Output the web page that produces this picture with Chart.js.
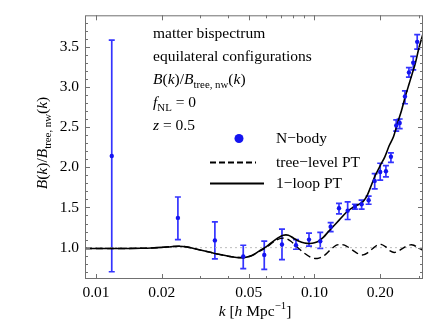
<!DOCTYPE html>
<html>
<head>
<meta charset="utf-8">
<script src="https://cdn.jsdelivr.net/npm/chart.js@4.4.1/dist/chart.umd.min.js"></script>
<style>
  html, body { margin: 0; padding: 0; background: #fff; }
</style>
</head>
<body>
<canvas id="bispecChart" width="432" height="336"></canvas>
<script>
// N-body measurements with error bars
const kNbody = [0.0118, 0.0237, 0.0350, 0.0472, 0.0589, 0.0710, 0.0823, 0.0944, 0.1063, 0.1186,
                0.1295, 0.1419, 0.1532, 0.1644, 0.1770, 0.1887, 0.2000, 0.2124, 0.2239, 0.2368,
                0.2455, 0.2596, 0.2707, 0.2833, 0.2954];
const bNbody = [2.14, 1.37, 1.09, 0.89, 0.91, 1.04, 1.03, 1.10, 1.08, 1.26,
                1.49, 1.46, 1.51, 1.54, 1.59, 1.83, 1.94, 1.95, 2.13, 2.52,
                2.55, 2.88, 3.18, 3.30, 3.56];
const bNbodyLo = [0.70, 1.10, 0.86, 0.74, 0.73, 0.85, 0.98, 1.02, 0.99, 1.20,
                  1.42, 1.35, 1.48, 1.48, 1.54, 1.73, 1.84, 1.88, 2.06, 2.45,
                  2.48, 2.79, 3.12, 3.21, 3.47];
const bNbodyHi = [3.58, 1.63, 1.32, 1.03, 1.08, 1.23, 1.10, 1.18, 1.19, 1.31,
                  1.55, 1.57, 1.54, 1.59, 1.64, 1.92, 2.05, 2.02, 2.18, 2.59,
                  2.60, 2.95, 3.24, 3.38, 3.65];

// 1-loop PT
const kLoop = [0.0089, 0.010, 0.012, 0.014, 0.016, 0.018, 0.020, 0.022, 0.024, 0.026,
               0.028, 0.030, 0.033, 0.036, 0.040, 0.044, 0.048, 0.052, 0.056, 0.060,
               0.064, 0.068, 0.072, 0.076, 0.080, 0.085, 0.090, 0.095, 0.100, 0.105,
               0.110, 0.115, 0.120, 0.130, 0.140, 0.150, 0.160, 0.165, 0.170, 0.175,
               0.180, 0.190, 0.200, 0.210, 0.220, 0.230, 0.240, 0.250, 0.260, 0.270,
               0.280, 0.290, 0.300, 0.314];
const bLoop = [0.990, 0.990, 0.990, 0.990, 0.992, 0.996, 1.003, 1.012, 1.018, 1.010,
               0.990, 0.970, 0.945, 0.920, 0.895, 0.878, 0.878, 0.905, 0.960, 1.010,
               1.070, 1.120, 1.155, 1.155, 1.120, 1.080, 1.058, 1.052, 1.060, 1.085,
               1.130, 1.190, 1.245, 1.345, 1.440, 1.500, 1.540, 1.560, 1.600, 1.660,
               1.740, 1.900, 2.020, 2.130, 2.270, 2.380, 2.550, 2.700, 2.870, 3.020,
               3.160, 3.300, 3.470, 3.660];

// tree-level PT
const kTree = [0.0089, 0.010, 0.012, 0.014, 0.016, 0.018, 0.020, 0.022, 0.024, 0.026,
               0.028, 0.030, 0.033, 0.036, 0.040, 0.044, 0.048, 0.052, 0.056, 0.060,
               0.065, 0.070, 0.074, 0.078, 0.083, 0.090, 0.097, 0.103, 0.110, 0.118,
               0.126, 0.132, 0.140, 0.150, 0.160, 0.167, 0.175, 0.185, 0.195, 0.202,
               0.212, 0.222, 0.232, 0.245, 0.260, 0.275, 0.285, 0.300, 0.314];
const bTree = [0.990, 0.990, 0.990, 0.990, 0.992, 0.996, 1.003, 1.012, 1.018, 1.010,
               0.990, 0.970, 0.945, 0.920, 0.895, 0.878, 0.878, 0.905, 0.955, 1.000,
               1.070, 1.115, 1.115, 1.080, 1.010, 0.930, 0.875, 0.865, 0.895, 0.970,
               1.030, 1.040, 1.020, 0.965, 0.918, 0.910, 0.935, 0.990, 1.035, 1.040,
               1.010, 0.960, 0.940, 0.965, 1.010, 1.035, 1.030, 0.995, 0.965];

const xTicks = [0.01, 0.02, 0.05, 0.10, 0.20];
const xMinor = [0.03, 0.04, 0.06, 0.07, 0.08, 0.09, 0.3];
const yTicks = [1.0, 1.5, 2.0, 2.5, 3.0, 3.5];
const yMinor = [0.7, 0.8, 0.9, 1.1, 1.2, 1.3, 1.4, 1.6, 1.7, 1.8, 1.9, 2.1, 2.2, 2.3, 2.4,
                2.6, 2.7, 2.8, 2.9, 3.1, 3.2, 3.3, 3.4, 3.6, 3.7, 3.8];

const X_MIN = 0.0089, X_MAX = 0.314;
const FONT = '"Liberation Serif", "Times New Roman", serif';
const FS = 15.5;
const BLUE = '#1414f0';

function pts(xs, ys) {
    return xs.map((x, i) => ({ x: x, y: ys[i] }));
}

// draws a run of text with italic / sub / superscript parts
function richText(ctx, x, y, parts, size) {
    let cx = x;
    parts.forEach(p => {
        const s = (p.sub || p.sup) ? size * 0.7 : size;
        ctx.font = (p.it ? 'italic ' : '') + s + 'px ' + FONT;
        const dy = p.sub ? size * 0.3 : (p.sup ? -size * 0.35 : 0);
        ctx.fillText(p.t, cx, y + dy);
        cx += ctx.measureText(p.t).width;
    });
    return cx - x;
}
function richWidth(ctx, parts, size) {
    let w = 0;
    parts.forEach(p => {
        const s = (p.sub || p.sup) ? size * 0.7 : size;
        ctx.font = (p.it ? 'italic ' : '') + s + 'px ' + FONT;
        w += ctx.measureText(p.t).width;
    });
    return w;
}

const ratioText = [
    { t: 'B', it: true }, { t: '(' }, { t: 'k', it: true }, { t: ')/' },
    { t: 'B', it: true }, { t: 'tree, nw', sub: true }, { t: '(' }, { t: 'k', it: true }, { t: ')' }
];

const decorPlugin = {
    id: 'decor',
    beforeDatasetsDraw(chart) {
        const ctx = chart.ctx;
        const xs = chart.scales.x, ys = chart.scales.y;
        const ds = chart.data.datasets[0];
        ctx.save();
        ctx.strokeStyle = 'rgba(30,30,255,0.9)';
        ctx.lineWidth = 1.7;
        ds.data.forEach((p, i) => {
            const px = xs.getPixelForValue(p.x);
            const top = ys.getPixelForValue(ds.errHi[i]);
            const bot = ys.getPixelForValue(ds.errLo[i]);
            ctx.beginPath();
            ctx.moveTo(px, bot); ctx.lineTo(px, top);
            ctx.moveTo(px - 3, top); ctx.lineTo(px + 3, top);
            ctx.moveTo(px - 3, bot); ctx.lineTo(px + 3, bot);
            ctx.stroke();
        });
        ctx.restore();
    },
    afterDraw(chart) {
        const ctx = chart.ctx;
        const a = chart.chartArea;
        const xs = chart.scales.x, ys = chart.scales.y;
        ctx.save();
        // frame
        ctx.strokeStyle = '#707070';
        ctx.lineWidth = 1;
        ctx.strokeRect(a.left + 0.5, a.top + 0.5, a.right - a.left - 1, a.bottom - a.top - 1);
        // inward ticks on all four sides
        ctx.beginPath();
        const tickX = (v, len) => {
            const px = Math.round(xs.getPixelForValue(v)) + 0.5;
            ctx.moveTo(px, a.bottom); ctx.lineTo(px, a.bottom - len);
            ctx.moveTo(px, a.top); ctx.lineTo(px, a.top + len);
        };
        const tickY = (v, len) => {
            const py = Math.round(ys.getPixelForValue(v)) + 0.5;
            ctx.moveTo(a.left, py); ctx.lineTo(a.left + len, py);
            ctx.moveTo(a.right, py); ctx.lineTo(a.right - len, py);
        };
        xTicks.forEach(v => tickX(v, 5));
        xMinor.forEach(v => tickX(v, 3));
        yTicks.forEach(v => tickY(v, 5));
        yMinor.forEach(v => tickY(v, 3));
        ctx.stroke();

        ctx.fillStyle = '#000';
        ctx.textBaseline = 'middle';
        ctx.textAlign = 'left';
        // annotation block
        const tx = 153;
        ctx.font = FS + 'px ' + FONT;
        ctx.fillText('matter bispectrum', tx, 34);
        ctx.fillText('equilateral configurations', tx, 57);
        richText(ctx, tx, 80, ratioText, FS);
        richText(ctx, tx, 103, [{ t: 'f', it: true }, { t: 'NL', sub: true }, { t: ' = 0' }], FS);
        richText(ctx, tx, 126, [{ t: 'z', it: true }, { t: ' = 0.5' }], FS);

        // legend
        const lx = 276;
        const dsets = chart.data.datasets;
        ctx.fillStyle = BLUE;
        ctx.beginPath();
        ctx.arc(239, 138.5, 4.5, 0, Math.PI * 2);
        ctx.fill();
        ctx.strokeStyle = '#000';
        ctx.lineWidth = 1.8;
        ctx.setLineDash([6, 3]);
        ctx.beginPath();
        ctx.moveTo(210, 162.5); ctx.lineTo(256, 162.5);
        ctx.stroke();
        ctx.setLineDash([]);
        ctx.beginPath();
        ctx.moveTo(210, 183.5); ctx.lineTo(264, 183.5);
        ctx.stroke();
        ctx.fillStyle = '#000';
        ctx.font = FS + 'px ' + FONT;
        ctx.fillText(dsets[0].label, lx, 139);
        ctx.fillText(dsets[1].label, lx, 162.5);
        ctx.fillText(dsets[2].label, lx, 183.5);

        // axis titles
        const xt = [{ t: 'k', it: true }, { t: ' [' }, { t: 'h', it: true }, { t: ' Mpc' }, { t: '\u22121', sup: true }, { t: ']' }];
        const xw = richWidth(ctx, xt, FS);
        richText(ctx, 255 - xw / 2, 312, xt, FS);

        ctx.translate(43, 143);
        ctx.rotate(-Math.PI / 2);
        const yw = richWidth(ctx, ratioText, FS);
        richText(ctx, -yw / 2, 0, ratioText, FS);
        ctx.restore();
    }
};

const ctx = document.getElementById('bispecChart');
new Chart(ctx, {
    type: 'scatter',
    data: {
        datasets: [
            {
                label: 'N\u2212body',
                data: pts(kNbody, bNbody),
                errLo: bNbodyLo,
                errHi: bNbodyHi,
                showLine: false,
                pointRadius: 2.2,
                pointBorderWidth: 0,
                pointBackgroundColor: BLUE,
                order: 0
            },
            {
                label: 'tree\u2212level PT',
                data: pts(kTree, bTree),
                showLine: true,
                borderColor: '#000',
                borderWidth: 1.4,
                borderDash: [7, 4],
                pointRadius: 0,
                tension: 0.3,
                order: 2
            },
            {
                label: '1\u2212loop PT',
                data: pts(kLoop, bLoop),
                showLine: true,
                borderColor: '#000',
                borderWidth: 1.6,
                pointRadius: 0,
                tension: 0.3,
                order: 1
            },
            {
                label: 'unity',
                data: [{ x: X_MIN, y: 1 }, { x: X_MAX, y: 1 }],
                showLine: true,
                borderColor: '#bdbdbd',
                borderWidth: 1,
                borderDash: [2, 3],
                pointRadius: 0,
                order: 3
            }
        ]
    },
    options: {
        responsive: false,
        animation: false,
        layout: { padding: { left: 0, top: 7, right: 9, bottom: 0 } },
        plugins: { legend: { display: false }, tooltip: { enabled: false } },
        scales: {
            x: {
                type: 'logarithmic',
                min: X_MIN,
                max: X_MAX,
                afterBuildTicks: s => { s.ticks = xTicks.map(v => ({ value: v })); },
                afterFit: s => { s.height = 57; },
                grid: { display: false, drawTicks: false },
                border: { display: false },
                ticks: {
                    autoSkip: false,
                    maxRotation: 0,
                    padding: 5,
                    color: '#000',
                    font: { family: FONT, size: FS },
                    callback: v => Number(v).toFixed(2)
                }
            },
            y: {
                type: 'linear',
                min: 0.61,
                max: 3.89,
                afterBuildTicks: s => { s.ticks = yTicks.map(v => ({ value: v })); },
                afterFit: s => { s.width = 85; },
                grid: { display: false, drawTicks: false },
                border: { display: false },
                ticks: {
                    padding: 6,
                    color: '#000',
                    font: { family: FONT, size: FS },
                    callback: v => Number(v).toFixed(1)
                }
            }
        }
    },
    plugins: [decorPlugin]
});
</script>
</body>
</html>
